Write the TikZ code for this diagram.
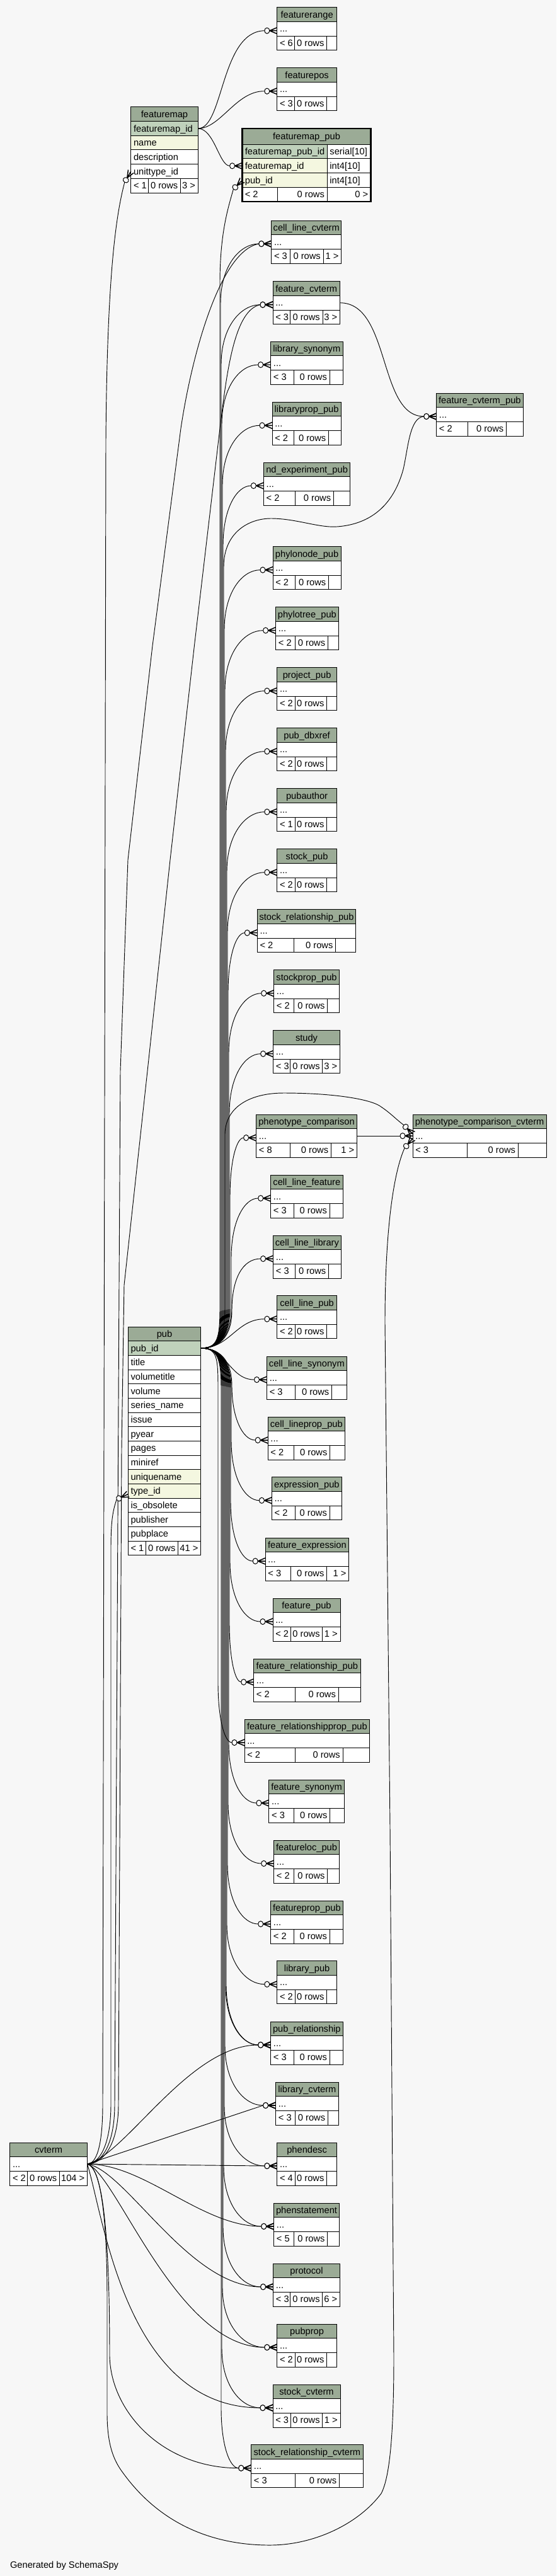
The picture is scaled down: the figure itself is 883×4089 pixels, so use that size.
\documentclass[tikz,border=0pt]{standalone}
\usepackage{fontspec}
\setmainfont{Liberation Sans}
\usetikzlibrary{calc}
\definecolor{bgc}{RGB}{247,247,247}
\definecolor{hdr}{RGB}{155,171,150}
\definecolor{pkc}{RGB}{191,209,187}
\definecolor{idxc}{RGB}{244,247,224}
\pgfdeclarelayer{bglayer}
\pgfdeclarelayer{edgelayer}
\pgfsetlayers{bglayer,edgelayer,main}
\tikzset{
  cellbox/.style={draw=black,line width=0.75pt},
  txt/.style={font=\fontsize{11}{13}\selectfont,inner sep=0pt,text=black},
  edge/.style={draw=black,line width=0.7pt},
  crow/.pic={
    \draw[line width=1.1pt] (-12,0) -- (0,-5) (-12,0) -- (0,0) (-12,0) -- (0,5);
    \draw[line width=0.75pt,fill=white] (-16,0) ellipse [x radius=3pt,y radius=3.4pt];
    \coordinate (-tail) at (-20,0);
  }
}
\newcommand\mkTbl[5]{%
  \pgfmathsetmacro\tyA{#4+22.67}%
  \pgfmathsetmacro\tyB{#4+45.33}%
  \pgfmathsetmacro\txM{(#2+#3)/2}%
  \path[cellbox,fill=hdr] (#2,#4) rectangle (#3,\tyA);
  \node[txt,anchor=base] (#1-t) at (\txM,#4+16.5) {#5};
  \path[cellbox,fill=white] (#2,\tyA) rectangle (#3,\tyB);
  \node[txt,anchor=base west] (#1-b) at (#2+4,\tyA+16.5) {...};
  \coordinate (#1-w) at (#2,#4+37);
  \coordinate (#1-e) at (#3,#4+34);
}
\newcommand\mkFoot[8]{%
  \pgfmathsetmacro\tyC{\tyB+22.67}%
  \path[cellbox,fill=white] (#2,\tyB) rectangle (#3,\tyC) (#3,\tyB) rectangle (#4,\tyC) (#4,\tyB) rectangle (#5,\tyC);
  \node[txt,anchor=base west] (#1-f1) at (#2+4,\tyB+16.5) {#6};
  \node[txt,anchor=base east] (#1-f2) at (#4-4,\tyB+16.5) {#7};
  \node[txt,anchor=base east] (#1-f3) at (#5-4,\tyB+16.5) {#8};
}
\newcommand\mkT[9]{\mkTbl{#1}{#2}{#3}{#4}{#5}\mkFoot{#1}{#2}{#6}{#7}{#3}{#8}{0 rows}{#9}}
\newcommand\mkRow[6]{%
  \path[cellbox,fill=#5] (#2,#4) rectangle (#3,#4+22.67);
  \node[txt,anchor=base west] (#1) at (#2+4,#4+16.5) {#6};
}
\newcommand\pubUp[3]{%
  \draw[edge] (pub-pk) .. controls (345,2140) and (#2,2125) .. (#2,2075) -- (#2,#3+95) .. controls (#2,#3+35) and ($(#2,#3)!0.5!(#1)$) .. (#1);
}
\newcommand\pubDn[3]{%
  \draw[edge] (pub-pk) .. controls (345,2140) and (#2,2155) .. (#2,2205) -- (#2,#3-95) .. controls (#2,#3-35) and ($(#2,#3)!0.5!(#1)$) .. (#1);
}
\begin{document}
\begin{tikzpicture}[x=0.75pt,y=-0.75pt]
\useasboundingbox (0,0) rectangle (883,4089);
\begin{pgfonlayer}{bglayer}
\fill[bgc] (0,0) rectangle (883,4089);
\end{pgfonlayer}

% ---------- featuremap ----------
\path[cellbox,fill=hdr] (207.8,170) rectangle (314.2,192.67);
\node[txt,anchor=base] (fmap-t) at (261,186.5) {featuremap};
\mkRow{fmap-r1}{207.8}{314.2}{192.67}{pkc}{featuremap\_id}
\mkRow{fmap-r2}{207.8}{314.2}{215.33}{idxc}{name}
\mkRow{fmap-r3}{207.8}{314.2}{238}{white}{description}
\mkRow{fmap-r4}{207.8}{314.2}{260.67}{white}{unittype\_id}
\def\tyB{283.33}
\mkFoot{fmap}{207.8}{235.4}{286.6}{314.2}{< 1}{0 rows}{3 >}
\coordinate (fmap-pk) at (314.2,204);
\coordinate (fmap-unit) at (207.8,272);

% ---------- featuremap_pub ----------
\path[cellbox,fill=hdr] (384.6,204) rectangle (588.5,229.33);
\node[txt,anchor=base] (fmpub-t) at (486.55,222) {featuremap\_pub};
\mkRow{fmpub-r1}{384.6}{519.2}{229.33}{pkc}{featuremap\_pub\_id}
\mkRow{fmpub-r1t}{519.2}{588.5}{229.33}{white}{serial[10]}
\mkRow{fmpub-r2}{384.6}{519.2}{252}{idxc}{featuremap\_id}
\mkRow{fmpub-r2t}{519.2}{588.5}{252}{white}{int4[10]}
\mkRow{fmpub-r3}{384.6}{519.2}{274.67}{idxc}{pub\_id}
\mkRow{fmpub-r3t}{519.2}{588.5}{274.67}{white}{int4[10]}
\def\tyB{297.33}
\mkFoot{fmpub}{384.6}{440.4}{519.2}{588.5}{< 2}{0 rows}{0 >}
\draw[line width=2.2pt] (384.6,204) rectangle (588.5,320);
\coordinate (fmpub-fmid) at (384.6,263.3);
\coordinate (fmpub-pubid) at (384.6,286);

% ---------- pub ----------
\path[cellbox,fill=hdr] (203.3,2106) rectangle (318.7,2128.67);
\node[txt,anchor=base] (pub-t) at (261,2122.5) {pub};
\mkRow{pub-r0}{203.3}{318.7}{2128.67}{pkc}{pub\_id}
\mkRow{pub-r1}{203.3}{318.7}{2151.34}{white}{title}
\mkRow{pub-r2}{203.3}{318.7}{2174.01}{white}{volumetitle}
\mkRow{pub-r3}{203.3}{318.7}{2196.68}{white}{volume}
\mkRow{pub-r4}{203.3}{318.7}{2219.35}{white}{series\_name}
\mkRow{pub-r5}{203.3}{318.7}{2242.02}{white}{issue}
\mkRow{pub-r6}{203.3}{318.7}{2264.69}{white}{pyear}
\mkRow{pub-r7}{203.3}{318.7}{2287.36}{white}{pages}
\mkRow{pub-r8}{203.3}{318.7}{2310.03}{white}{miniref}
\mkRow{pub-r9}{203.3}{318.7}{2332.70}{idxc}{uniquename}
\mkRow{pub-r10}{203.3}{318.7}{2355.37}{idxc}{type\_id}
\mkRow{pub-r11}{203.3}{318.7}{2378.04}{white}{is\_obsolete}
\mkRow{pub-r12}{203.3}{318.7}{2400.71}{white}{publisher}
\mkRow{pub-r13}{203.3}{318.7}{2423.38}{white}{pubplace}
\def\tyB{2446.05}
\mkFoot{pub}{203.3}{231.5}{282.7}{318.7}{< 1}{0 rows}{41 >}
\coordinate (pub-pk) at (318.7,2140);
\coordinate (pub-typeid) at (203.3,2371.7);

% ---------- simple tables ----------
\mkT{frange}{439.8}{534.4}{11.7}{featurerange}{467.4}{518.7}{< 6}{}
\mkT{fpos}{439.8}{534.4}{107.7}{featurepos}{467.4}{518.7}{< 3}{}
\mkT{clcv}{430.8}{541.7}{350}{cell\_line\_cvterm}{460.6}{513}{< 3}{1 >}
\mkT{fcv}{433}{539.5}{446.7}{feature\_cvterm}{460.6}{512}{< 3}{3 >}
\mkT{libsyn}{429.7}{544}{542}{library\_synonym}{466.9}{523.2}{< 3}{}
\mkT{libprop}{432}{541.2}{638.3}{libraryprop\_pub}{466.9}{521.5}{< 2}{}
\mkT{fcvpub}{692.7}{830}{624}{feature\_cvterm\_pub}{742.2}{803.6}{< 2}{}
\mkT{ndexp}{418.4}{555.8}{734}{nd\_experiment\_pub}{468}{529.4}{< 2}{}
\mkT{phynode}{433}{541.2}{867.7}{phylonode\_pub}{468}{521.5}{< 2}{}
\mkT{phytree}{437.6}{537.2}{963.7}{phylotree\_pub}{468}{520.4}{< 2}{}
\mkT{proj}{439.8}{534.4}{1059.7}{project\_pub}{468}{518.7}{< 2}{}
\mkT{pubdbx}{439.8}{534.4}{1155.7}{pub\_dbxref}{468}{518.7}{< 2}{}
\mkT{pubauth}{439.8}{534.4}{1251.7}{pubauthor}{468}{518.7}{< 1}{}
\mkT{stockpub}{439.8}{534.4}{1347.7}{stock\_pub}{468}{518.7}{< 2}{}
\mkT{stockrelpub}{408.3}{564.8}{1443.7}{stock\_relationship\_pub}{466.9}{532.7}{< 2}{}
\mkT{stockprop}{434.7}{538.4}{1539.7}{stockprop\_pub}{466.9}{519.8}{< 2}{}
\mkT{study}{433.6}{539.5}{1635.7}{study}{460.6}{511.9}{< 3}{3 >}
\mkT{phencmp}{406.6}{566.5}{1769}{phenotype\_comparison}{460.6}{525.4}{< 8}{1 >}
\mkT{phencmpcv}{655}{867.2}{1769}{phenotype\_comparison\_cvterm}{741.7}{822.2}{< 3}{}
\mkT{clfeat}{429.7}{544}{1865}{cell\_line\_feature}{466.9}{523.2}{< 3}{}
\mkT{cllib}{433.6}{541.2}{1961}{cell\_line\_library}{468}{521.5}{< 3}{}
\mkT{clpub}{439.8}{534.4}{2056.7}{cell\_line\_pub}{468}{518.7}{< 2}{}
\mkT{clsyn}{423.5}{550.2}{2153}{cell\_line\_synonym}{468}{526.5}{< 3}{}
\mkT{clprop}{425.2}{547.4}{2249}{cell\_lineprop\_pub}{466.9}{523.7}{< 2}{}
\mkT{exprpub}{431.4}{542.3}{2344.7}{expression\_pub}{468}{523.2}{< 2}{}
\mkT{fexpr}{421.2}{553.6}{2441}{feature\_expression}{461.2}{518.7}{< 3}{1 >}
\mkT{fpub}{433}{540}{2537}{feature\_pub}{461.2}{511.9}{< 2}{1 >}
\mkT{frelpub}{402.7}{572.2}{2633}{feature\_relationship\_pub}{468}{537.2}{< 2}{}
\mkT{frelprop}{388}{586.8}{2729}{feature\_relationshipprop\_pub}{468}{544}{< 2}{}
\mkT{fsyn}{426.9}{546.3}{2825}{feature\_synonym}{466.9}{523.7}{< 3}{}
\mkT{flocpub}{434.7}{538.4}{2921}{featureloc\_pub}{466.9}{519.8}{< 2}{}
\mkT{fproppub}{429.7}{544}{3017}{featureprop\_pub}{466.9}{523.2}{< 2}{}
\mkT{libpub}{439.8}{534.4}{3112.7}{library\_pub}{468}{518.7}{< 2}{}
\mkT{pubrel}{429.7}{544}{3209}{pub\_relationship}{466.9}{523.2}{< 3}{}
\mkT{libcv}{437.6}{537.2}{3305}{library\_cvterm}{468}{520.4}{< 3}{}
\mkT{phendesc}{439.8}{534.4}{3401}{phendesc}{468}{518.7}{< 4}{}
\mkT{phenst}{434.7}{538.4}{3497}{phenstatement}{466.9}{519.8}{< 5}{}
\mkT{protocol}{433.6}{539.5}{3593}{protocol}{460.6}{511.9}{< 3}{6 >}
\mkT{pubprop}{439.8}{534.4}{3689}{pubprop}{468}{518.7}{< 2}{}
\mkT{stockcv}{433}{540}{3785}{stock\_cvterm}{461.2}{511.9}{< 3}{1 >}
\mkT{stockrelcv}{398.7}{576.1}{3880.7}{stock\_relationship\_cvterm}{468}{538.4}{< 3}{}
\mkT{cvterm}{15.8}{138.5}{3401}{cvterm}{43.9}{94.6}{< 2}{104 >}

\coordinate (phencmpcv-w1) at (655,1803);
\coordinate (phencmpcv-w2) at (655,1800);
\coordinate (phencmpcv-w3) at (655,1807);

\node[txt,anchor=base west] (gen) at (15.8,4076.5) {Generated by SchemaSpy};

% ---------- arrow ends ----------
\pic (f-frange) at (frange-w) {crow};
\pic (f-fpos) at (fpos-w) {crow};
\pic (f-fmpub) at (fmpub-fmid) {crow};
\pic[rotate=45] (a-fmpub) at (fmpub-pubid) {crow};
\pic[rotate=60] (c-fmap) at (fmap-unit) {crow};
\pic[rotate=25] (c-pub) at (pub-typeid) {crow};
\pic (a-clcv) at (clcv-w) {crow};
\pic (c-clcv) at (clcv-w) {crow};
\pic (a-fcv) at (fcv-w) {crow};
\pic (c-fcv) at (fcv-w) {crow};
\pic (a-libsyn) at (libsyn-w) {crow};
\pic (a-libprop) at (libprop-w) {crow};
\pic (f-fcvpub) at (fcvpub-w) {crow};
\pic (a-fcvpub) at (fcvpub-w) {crow};
\pic (a-ndexp) at (ndexp-w) {crow};
\pic (a-phynode) at (phynode-w) {crow};
\pic (a-phytree) at (phytree-w) {crow};
\pic (a-proj) at (proj-w) {crow};
\pic (a-pubdbx) at (pubdbx-w) {crow};
\pic (a-pubauth) at (pubauth-w) {crow};
\pic (a-stockpub) at (stockpub-w) {crow};
\pic (a-stockrelpub) at (stockrelpub-w) {crow};
\pic (a-stockprop) at (stockprop-w) {crow};
\pic (a-study) at (study-w) {crow};
\pic (a-phencmp) at (phencmp-w) {crow};
\pic (p-phencmpcv) at (phencmpcv-w1) {crow};
\pic[rotate=-45] (a-phencmpcv) at (phencmpcv-w2) {crow};
\pic[rotate=50] (c-phencmpcv) at (phencmpcv-w3) {crow};
\pic (a-clfeat) at (clfeat-w) {crow};
\pic (a-cllib) at (cllib-w) {crow};
\pic (a-clpub) at (clpub-w) {crow};
\pic (a-clsyn) at (clsyn-w) {crow};
\pic (a-clprop) at (clprop-w) {crow};
\pic (a-exprpub) at (exprpub-w) {crow};
\pic (a-fexpr) at (fexpr-w) {crow};
\pic (a-fpub) at (fpub-w) {crow};
\pic (a-frelpub) at (frelpub-w) {crow};
\pic (a-frelprop) at (frelprop-w) {crow};
\pic (a-fsyn) at (fsyn-w) {crow};
\pic (a-flocpub) at (flocpub-w) {crow};
\pic (a-fproppub) at (fproppub-w) {crow};
\pic (a-libpub) at (libpub-w) {crow};
\pic (a-pubrel) at (pubrel-w) {crow};
\pic (b-pubrel) at (pubrel-w) {crow};
\pic (c-pubrel) at (pubrel-w) {crow};
\pic (a-libcv) at (libcv-w) {crow};
\pic (c-libcv) at (libcv-w) {crow};
\pic (a-phendesc) at (phendesc-w) {crow};
\pic (c-phendesc) at (phendesc-w) {crow};
\pic (a-phenst) at (phenst-w) {crow};
\pic (c-phenst) at (phenst-w) {crow};
\pic (a-protocol) at (protocol-w) {crow};
\pic (c-protocol) at (protocol-w) {crow};
\pic (a-pubprop) at (pubprop-w) {crow};
\pic (c-pubprop) at (pubprop-w) {crow};
\pic (a-stockcv) at (stockcv-w) {crow};
\pic (c-stockcv) at (stockcv-w) {crow};
\pic (a-stockrelcv) at (stockrelcv-w) {crow};
\pic (c-stockrelcv) at (stockrelcv-w) {crow};

% ---------- connectors ----------
\begin{pgfonlayer}{edgelayer}
% featuremap
\draw[edge] (fmap-pk) .. controls (355,204) and (350,50) .. (f-frange-tail);
\draw[edge] (fmap-pk) .. controls (350,204) and (375,144) .. (f-fpos-tail);
\draw[edge] (fmap-pk) .. controls (340,204) and (348,263.3) .. (f-fmpub-tail);
% feature_cvterm -> feature_cvterm_pub
\draw[edge] (fcv-e) .. controls (620,480.7) and (600,661) .. (f-fcvpub-tail);
% phenotype_comparison -> phenotype_comparison_cvterm
\draw[edge] (phencmp-e) -- (p-phencmpcv-tail);

% pub upward
\pubUp{a-clfeat-tail}{367}{1902}
\pubUp{a-phencmp-tail}{365}{1806}
\pubUp{a-study-tail}{364}{1672.7}
\pubUp{a-stockprop-tail}{363}{1576.7}
\pubUp{a-stockrelpub-tail}{362}{1480.7}
\pubUp{a-stockpub-tail}{361}{1384.7}
\pubUp{a-pubauth-tail}{360}{1288.7}
\pubUp{a-pubdbx-tail}{359}{1192.7}
\pubUp{a-proj-tail}{358}{1096.7}
\pubUp{a-phytree-tail}{357}{1000.7}
\pubUp{a-phynode-tail}{356}{904.7}
\pubUp{a-ndexp-tail}{354}{771}
\pubUp{a-libprop-tail}{353}{675.3}
\pubUp{a-libsyn-tail}{352}{579}
\pubUp{a-fcv-tail}{351}{483.7}
\pubUp{a-clcv-tail}{350}{387}
\draw[edge] (pub-pk) .. controls (345,2140) and (368,2125) .. (368,2080) .. controls (368,2030) and (385,1998) .. (a-cllib-tail);
\draw[edge] (pub-pk) .. controls (365,2140) and (375,2093.7) .. (a-clpub-tail);
\draw[edge] (pub-pk) .. controls (345,2140) and (349,2125) .. (349,2075) -- (349,450) .. controls (349,370) and (362,330) .. (a-fmpub-tail);
\draw[edge] (pub-pk) .. controls (345,2140) and (357,2125) .. (357,2075) -- (357,1800) .. controls (358,1755) and (400,1735) .. (450,1735) .. controls (530,1735) and (590,1745) .. (605,1757) .. controls (620,1767) and (630,1778) .. (a-phencmpcv-tail);
\draw[edge] (pub-pk) .. controls (345,2140) and (355,2125) .. (355,2075) -- (355,900) .. controls (355,845) and (395,823) .. (430,823) .. controls (470,823) and (505,838) .. (535,836) .. controls (590,832) and (625,800) .. (640,745) .. controls (648,710) and (650,663) .. (a-fcvpub-tail);

% pub downward
\draw[edge] (pub-pk) .. controls (360,2140) and (365,2190) .. (a-clsyn-tail);
\draw[edge] (pub-pk) .. controls (345,2140) and (368,2155) .. (368,2200) .. controls (368,2250) and (385,2286) .. (a-clprop-tail);
\pubDn{a-exprpub-tail}{367}{2381.7}
\pubDn{a-fexpr-tail}{366}{2478}
\pubDn{a-fpub-tail}{365}{2574}
\pubDn{a-frelpub-tail}{364}{2670}
\pubDn{a-frelprop-tail}{346}{2766}
\pubDn{a-fsyn-tail}{363}{2862}
\pubDn{a-flocpub-tail}{362}{2958}
\pubDn{a-fproppub-tail}{361}{3054}
\pubDn{a-libpub-tail}{360}{3149.7}
\pubDn{a-pubrel-tail}{359}{3246}
\pubDn{b-pubrel-tail}{358}{3246}
\pubDn{a-libcv-tail}{357}{3342}
\pubDn{a-phendesc-tail}{356}{3438}
\pubDn{a-phenst-tail}{355}{3534}
\pubDn{a-protocol-tail}{354}{3630}
\pubDn{a-pubprop-tail}{353}{3726}
\pubDn{a-stockcv-tail}{352}{3822}
\pubDn{a-stockrelcv-tail}{351}{3917.7}

% cvterm
\draw[edge] (cvterm-e) .. controls (152,3435) and (163,3410) .. (163,3340) -- (168,700) .. controls (170,420) and (186,335) .. (c-fmap-tail);
\draw[edge] (cvterm-e) .. controls (155,3435) and (176,3410) .. (176,3340) -- (176,2460) .. controls (176,2420) and (178,2400) .. (c-pub-tail);
\draw[edge] (cvterm-e) .. controls (158,3435) and (182,3410) .. (182,3340) -- (189,2040) -- (191,1700) -- (203,1365) -- (242,1025) -- (287,680) .. controls (305,560) and (350,398) .. (c-clcv-tail);
\draw[edge] (cvterm-e) .. controls (160,3435) and (188,3410) .. (188,3340) -- (193,2300) -- (197,2040) -- (234,1700) -- (270,1365) -- (309,1020) -- (349,680) .. controls (360,590) and (372,492) .. (c-fcv-tail);
\draw[edge] (cvterm-e) .. controls (200,3420) and (300,3246) .. (c-pubrel-tail);
\draw[edge] (cvterm-e) -- (c-libcv-tail);
\draw[edge] (cvterm-e) -- (c-phendesc-tail);
\draw[edge] (cvterm-e) .. controls (230,3435) and (320,3534) .. (c-phenst-tail);
\draw[edge] (cvterm-e) .. controls (200,3445) and (300,3630) .. (c-protocol-tail);
\draw[edge] (cvterm-e) .. controls (185,3450) and (280,3726) .. (c-pubprop-tail);
\draw[edge] (cvterm-e) .. controls (165,3520) and (200,3822) .. (c-stockcv-tail);
\draw[edge] (cvterm-e) .. controls (160,3440) and (174,3520) .. (174,3740) .. controls (176,3830) and (260,3917.7) .. (c-stockrelcv-tail);
\draw[edge] (cvterm-e) .. controls (160,3440) and (170,3520) .. (170,3650) -- (170,3830) .. controls (170,3880) and (180,3905) .. (195,3925) .. controls (260,4015) and (350,4040) .. (428,4040) .. controls (500,4040) and (570,4005) .. (605,3958) .. controls (620,3930) and (625,3850) .. (625,3740) -- (619,2900) -- (611,2100) .. controls (611,1950) and (625,1860) .. (c-phencmpcv-tail);
\end{pgfonlayer}
\end{tikzpicture}
\end{document}
